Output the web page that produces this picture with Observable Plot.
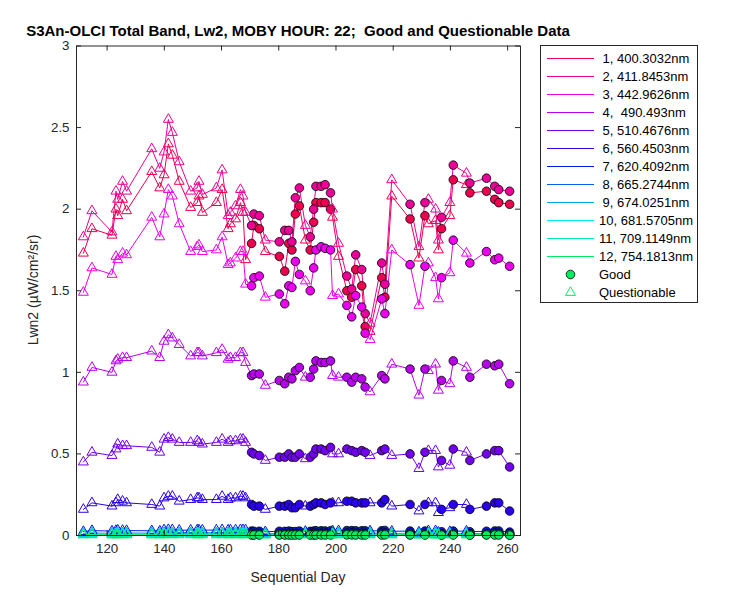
<!DOCTYPE html>
<html><head><meta charset="utf-8">
<script src="https://cdn.jsdelivr.net/npm/d3@7"></script>
<script src="https://cdn.jsdelivr.net/npm/@observablehq/plot@0.6"></script>
<style>
body{margin:0;background:#fff;font-family:"Liberation Sans",Arial,Helvetica,sans-serif;color:#262626;}
#wrap{position:relative;width:750px;height:600px;overflow:hidden;}
.ov{position:absolute;white-space:pre;line-height:1;}
#title{left:298px;top:23px;transform:translateX(-50%);font-weight:bold;font-size:15px;color:#000;}
#ylab{left:33px;top:290px;transform:translate(-50%,-50%) rotate(-90deg);font-size:14px;}
#xlab{left:298px;top:570px;transform:translateX(-50%);font-size:14px;}
#legend{position:absolute;left:540px;top:45px;width:156px;height:256px;border:1px solid #262626;background:#fff;}
.lrow{position:absolute;left:0;height:18px;width:156px;}
.lrow svg{position:absolute;left:0;top:0;}
.lrow span{position:absolute;left:58px;top:2px;font-size:13px;white-space:pre;color:#000;}
</style></head><body><div id="wrap"></div>
<script>
const days = [111.7,114.7,121.7,123.1,123.7,125.4,126.8,135.6,138.4,139.9,
141.4,142.8,145.2,149.2,151.5,152.1,153.3,158.2,160.2,162.3,
163.1,164.9,166.6,167.5,168.4,170.5,171.3,173.2,175.3,180.2,
182.1,183.5,184.6,185.8,187.2,189.3,191.0,192.2,193.0,194.8,
196.2,198.1,198.8,200.9,203.8,205.5,206.9,209.0,210.2,211.9,
216.0,217.1,219.5,225.9,229.0,231.1,232.3,234.8,235.8,236.9,
239.8,241.0,245.6,246.8,252.6,255.5,256.9,260.7];
const quality = ["Q","Q","Q","Q","Q","Q","Q","Q","Q","Q",
"Q","Q","Q","Q","Q","Q","Q","Q","Q","Q",
"Q","Q","Q","Q","Q","G","G","G","Q","G",
"G","G","G","G","G","Q","G","G","G","G",
"G","G","Q","Q","G","G","G","G","G","Q",
"G","G","Q","G","Q","G","Q","Q","Q","G",
"Q","G","Q","G","G","G","G","G"];
const band1 = [1.73,1.88,1.84,2.00,1.96,2.06,1.99,2.23,2.13,2.21,
2.40,2.33,2.17,2.01,2.04,2.08,1.98,2.04,2.12,1.88,
1.91,1.94,2.04,1.98,1.69,1.79,1.90,1.88,1.74,1.71,
1.62,1.79,1.75,1.97,2.02,1.81,1.75,1.92,2.04,2.04,
2.04,2.00,1.95,1.71,1.50,1.46,1.63,1.53,1.28,1.25,
1.58,1.46,2.08,1.94,1.70,1.96,1.91,1.93,1.75,1.88,
1.96,2.18,2.15,2.10,2.11,2.06,2.04,2.03];
const band2 = [1.83,1.99,1.86,2.11,2.06,2.17,2.11,2.37,2.25,2.35,
2.55,2.47,2.29,2.11,2.13,2.17,2.09,2.13,2.24,1.96,
1.98,2.02,2.12,2.08,1.98,1.90,1.97,1.96,1.81,1.80,
1.87,1.87,1.80,2.07,2.13,1.90,1.83,2.00,2.14,2.14,
2.15,2.10,2.00,1.79,1.59,1.51,1.72,1.63,1.36,1.30,
1.67,1.54,2.18,2.03,1.77,2.04,2.06,2.00,1.81,1.95,
2.04,2.27,2.22,2.16,2.19,2.14,2.12,2.11];
const band3 = [1.49,1.64,1.60,1.71,1.69,1.73,1.72,1.95,1.83,1.97,
2.12,2.08,1.91,1.74,1.77,1.78,1.74,1.75,1.83,1.66,
1.67,1.70,1.74,1.74,1.54,1.53,1.58,1.59,1.46,1.48,
1.42,1.53,1.52,1.68,1.60,1.56,1.50,1.64,1.75,1.77,
1.76,1.75,1.47,1.48,1.41,1.34,1.47,1.40,1.24,1.20,
1.45,1.36,1.75,1.66,1.41,1.65,1.67,1.58,1.45,1.58,
1.61,1.81,1.73,1.67,1.74,1.69,1.70,1.65];
const band4 = [0.94,1.03,1.00,1.07,1.08,1.09,1.09,1.13,1.09,1.19,
1.23,1.21,1.17,1.10,1.12,1.12,1.10,1.12,1.14,1.08,
1.09,1.09,1.12,1.12,1.06,0.98,0.99,0.99,0.92,0.95,
0.93,0.97,0.96,1.01,1.03,0.97,0.97,1.02,1.07,1.06,
1.06,1.07,0.98,0.97,0.97,0.94,0.97,0.96,0.91,0.88,
0.98,0.96,1.05,1.02,0.86,1.02,1.01,1.05,0.89,0.95,
0.93,1.07,1.03,0.97,1.05,1.04,1.05,0.93];
const band5 = [0.45,0.51,0.49,0.53,0.56,0.55,0.55,0.54,0.51,0.59,
0.60,0.59,0.57,0.57,0.58,0.57,0.56,0.57,0.59,0.57,
0.58,0.58,0.59,0.59,0.57,0.51,0.50,0.49,0.46,0.48,
0.48,0.50,0.48,0.48,0.50,0.47,0.48,0.50,0.53,0.53,
0.52,0.54,0.50,0.50,0.53,0.52,0.51,0.52,0.51,0.49,
0.52,0.53,0.49,0.50,0.41,0.51,0.52,0.52,0.42,0.46,
0.43,0.53,0.51,0.46,0.50,0.52,0.52,0.42];
const band6 = [0.16,0.20,0.18,0.20,0.22,0.21,0.20,0.19,0.18,0.23,
0.24,0.24,0.21,0.22,0.23,0.23,0.22,0.22,0.24,0.22,
0.23,0.23,0.24,0.24,0.23,0.19,0.18,0.18,0.16,0.18,
0.18,0.19,0.17,0.17,0.19,0.18,0.18,0.19,0.20,0.20,
0.19,0.20,0.20,0.20,0.21,0.21,0.20,0.20,0.20,0.20,
0.20,0.22,0.18,0.19,0.15,0.19,0.20,0.20,0.14,0.16,
0.17,0.19,0.19,0.16,0.18,0.20,0.20,0.15];
const band7 = [0.024,0.030,0.027,0.030,0.033,0.031,0.030,0.029,0.027,0.034,
0.036,0.035,0.032,0.033,0.034,0.034,0.033,0.033,0.035,0.033,
0.034,0.034,0.035,0.035,0.034,0.027,0.026,0.026,0.023,0.026,
0.025,0.027,0.024,0.024,0.027,0.025,0.025,0.027,0.029,0.029,
0.028,0.029,0.029,0.029,0.030,0.030,0.029,0.029,0.029,0.028,
0.029,0.031,0.026,0.027,0.021,0.027,0.029,0.029,0.020,0.023,
0.024,0.027,0.027,0.023,0.026,0.028,0.028,0.021];
const band8 = [0.012,0.015,0.013,0.015,0.016,0.015,0.015,0.014,0.013,0.017,
0.018,0.017,0.016,0.016,0.017,0.017,0.016,0.016,0.017,0.016,
0.017,0.017,0.017,0.017,0.017,0.013,0.013,0.013,0.011,0.013,
0.012,0.013,0.012,0.012,0.013,0.012,0.012,0.013,0.014,0.014,
0.014,0.014,0.014,0.014,0.015,0.015,0.014,0.014,0.014,0.014,
0.014,0.015,0.013,0.013,0.010,0.013,0.014,0.014,0.010,0.011,
0.012,0.013,0.013,0.011,0.013,0.014,0.014,0.010];
const band9 = [0.010,0.013,0.011,0.013,0.014,0.013,0.013,0.012,0.011,0.015,
0.016,0.015,0.014,0.014,0.015,0.015,0.014,0.014,0.015,0.014,
0.015,0.015,0.015,0.015,0.015,0.011,0.011,0.011,0.009,0.011,
0.010,0.011,0.010,0.010,0.011,0.010,0.010,0.011,0.012,0.012,
0.012,0.012,0.012,0.012,0.013,0.013,0.012,0.012,0.012,0.012,
0.012,0.013,0.011,0.011,0.008,0.011,0.012,0.012,0.008,0.009,
0.010,0.011,0.011,0.009,0.011,0.012,0.012,0.008];
const band10 = [0.009,0.012,0.010,0.012,0.013,0.012,0.012,0.011,0.010,0.014,
0.015,0.014,0.013,0.013,0.014,0.014,0.013,0.013,0.014,0.013,
0.014,0.014,0.014,0.014,0.014,0.010,0.010,0.010,0.008,0.010,
0.009,0.010,0.009,0.009,0.010,0.009,0.009,0.010,0.011,0.011,
0.011,0.011,0.011,0.011,0.012,0.012,0.011,0.011,0.011,0.011,
0.011,0.012,0.010,0.010,0.007,0.010,0.011,0.011,0.007,0.008,
0.009,0.010,0.010,0.008,0.010,0.011,0.011,0.007];
const band11 = [0.006,0.008,0.007,0.008,0.009,0.008,0.008,0.007,0.007,0.009,
0.010,0.009,0.009,0.009,0.009,0.009,0.009,0.009,0.009,0.009,
0.009,0.009,0.009,0.009,0.009,0.006,0.006,0.006,0.005,0.006,
0.006,0.006,0.006,0.006,0.006,0.006,0.006,0.006,0.007,0.007,
0.007,0.007,0.007,0.007,0.008,0.008,0.007,0.007,0.007,0.007,
0.007,0.008,0.006,0.006,0.004,0.006,0.007,0.007,0.004,0.005,
0.006,0.006,0.006,0.005,0.006,0.007,0.007,0.004];
const band12 = [0.003,0.004,0.003,0.004,0.004,0.004,0.004,0.003,0.003,0.004,
0.005,0.004,0.004,0.004,0.004,0.004,0.004,0.004,0.004,0.004,
0.004,0.004,0.004,0.004,0.004,0.003,0.003,0.003,0.002,0.003,
0.003,0.003,0.003,0.003,0.003,0.003,0.003,0.003,0.003,0.003,
0.003,0.003,0.003,0.003,0.004,0.004,0.003,0.003,0.003,0.003,
0.003,0.004,0.003,0.003,0.002,0.003,0.003,0.003,0.002,0.002,
0.003,0.003,0.003,0.002,0.003,0.003,0.003,0.002];
const bandLabels = [" 1, 400.3032nm"," 2, 411.8453nm"," 3, 442.9626nm"," 4,  490.493nm",
" 5, 510.4676nm"," 6, 560.4503nm"," 7, 620.4092nm"," 8, 665.2744nm"," 9, 674.0251nm",
"10, 681.5705nm","11, 709.1149nm","12, 754.1813nm"];
const bandColors = ["#ed004f","#ed0096","#ed00ed","#b900ed","#7200ed","#2b00ed",
"#0018ed","#005fed","#00a6ed","#00e9ed","#00edaa","#00ed63"];
const xTicks = [120,140,160,180,200,220,240,260];
const yTicks = [0,0.5,1,1.5,2,2.5,3];
const qualityNames = {G:"Good", Q:"Questionable"};

const bands = [band1,band2,band3,band4,band5,band6,band7,band8,band9,band10,band11,band12];
const rows = [];
bands.forEach((vals,b) => vals.forEach((v,i) => rows.push({band:b, day:days[i], value:v, q:quality[i]})));

const W=750, H=600, mL=76, mR=230, mT=45.5, mB=65;
const pW = W-mL-mR, pH = H-mT-mB, tk = 5;
const axisColor = "#262626";

const marks = [
  Plot.line(rows, {x:"day", y:"value", z:"band", stroke:"band", strokeWidth:1})
];
for (let b=0; b<12; b++) {
  marks.push(Plot.dot(rows.filter(d=>d.band===b && d.q==="G"), {x:"day", y:"value", fill:"band", stroke:"#000", strokeWidth:0.8, r:4.3}));
  marks.push(Plot.dot(rows.filter(d=>d.band===b && d.q==="Q"), {x:"day", y:"value", stroke:"band", fill:"none", symbol:"triangle", r:3.7, strokeWidth:1}));
}
marks.push(
  Plot.tickX(xTicks, {x:d=>d, insetTop:pH-tk, stroke:axisColor}),
  Plot.tickX(xTicks, {x:d=>d, insetBottom:pH-tk, stroke:axisColor}),
  Plot.tickY(yTicks, {y:d=>d, insetRight:pW-tk, stroke:axisColor}),
  Plot.tickY(yTicks, {y:d=>d, insetLeft:pW-tk, stroke:axisColor}),
  Plot.axisX({ticks:xTicks, tickSize:0, tickPadding:8, label:null, tickFormat:d=>String(d)}),
  Plot.axisY({ticks:yTicks, tickSize:0, tickPadding:7, label:null, tickFormat:d=>String(d)}),
  Plot.frame({stroke:axisColor})
);

const chart = Plot.plot({
  width:W, height:H, marginLeft:mL, marginRight:mR, marginTop:mT, marginBottom:mB,
  style:{fontFamily:'"Liberation Sans",Arial,sans-serif', fontSize:"13.3px", color:axisColor, background:"white", overflow:"visible"},
  x:{domain:[109.3,264.5]},
  y:{domain:[0,3]},
  color:{type:"ordinal", domain:d3.range(12), range:bandColors},
  marks
});

const wrap = document.getElementById("wrap");
wrap.appendChild(chart);

function ov(id, text){ const d=document.createElement("div"); d.className="ov"; d.id=id; d.textContent=text; wrap.appendChild(d); }
ov("title","S3An-OLCI Total Band, Lw2, MOBY HOUR: 22;  Good and Questionable Data");
ov("ylab","Lwn2 (\u00b5W/cm\u00b2/sr)");
ov("xlab","Sequential Day");

// legend
const leg = document.createElement("div"); leg.id="legend"; wrap.appendChild(leg);
const legItems = bandLabels.map((t,i)=>({text:t, kind:"line", color:bandColors[i]}))
  .concat([{text:qualityNames.G, kind:"G", color:bandColors[11]},{text:qualityNames.Q, kind:"Q", color:bandColors[11]}]);
legItems.forEach((it,i)=>{
  const row = document.createElement("div"); row.className="lrow"; row.style.top=(3+i*18)+"px";
  const svg = d3.create("svg").attr("width",56).attr("height",18);
  if (it.kind==="line") svg.append("line").attr("x1",6).attr("x2",53).attr("y1",9.5).attr("y2",9.5).attr("stroke",it.color).attr("stroke-width",1);
  else if (it.kind==="G") svg.append("circle").attr("cx",29.5).attr("cy",9.5).attr("r",4.3).attr("fill",it.color).attr("stroke","#000").attr("stroke-width",0.8);
  else svg.append("path").attr("transform","translate(29.5,9.5)").attr("d",d3.symbol(d3.symbolTriangle, Math.PI*3.7*3.7)()).attr("fill","none").attr("stroke",it.color);
  row.appendChild(svg.node());
  const sp = document.createElement("span"); sp.textContent=it.text;
  row.appendChild(sp);
  leg.appendChild(row);
});
</script></body></html>
